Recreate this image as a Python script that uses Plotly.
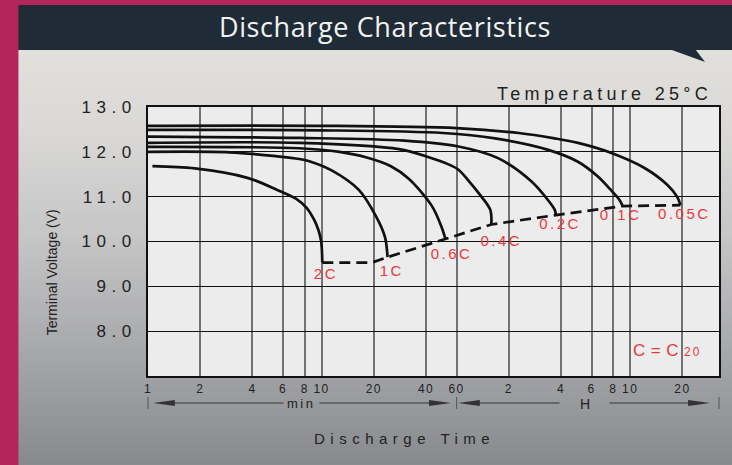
import zlib, struct, base64
import numpy as np
import plotly.graph_objects as go

# ---------------- data ----------------
rate_names = ['2C', '1C', '0.6C', '0.4C', '0.2C', '0.1C', '0.05C']

# discharge time in minutes, terminal voltage in volts
t_2C = [1.06, 1.86, 3.74, 5.56, 7.15, 8.2, 9.07, 9.6, 9.95, 10.1]
v_2C = [11.68, 11.63, 11.42, 11.15, 10.95, 10.75, 10.48, 10.25, 10.0, 9.53]

t_1C = [1, 2.95, 5.56, 7.44, 8.49, 11.5, 16.4, 20.6, 23.2, 24.0]
v_1C = [12.0, 11.99, 11.9, 11.84, 11.79, 11.58, 11.15, 10.56, 10.1, 9.65]

t_06C = [1, 7.44, 12.7, 18.0, 25.1, 31.8, 43.1, 49.2, 51.8]
v_06C = [12.11, 12.08, 12.0, 11.88, 11.68, 11.4, 10.8, 10.32, 10.05]

t_04C = [1, 7.44, 27.9, 41.5, 53.9, 61.5, 70.2, 83.4, 93.9, 95.1]
v_04C = [12.2, 12.2, 12.06, 11.88, 11.72, 11.6, 11.36, 11.0, 10.7, 10.38]

t_02C = [1, 7.44, 30, 61.5, 104, 161, 202, 221, 224]
v_02C = [12.34, 12.31, 12.25, 12.12, 11.86, 11.35, 10.92, 10.7, 10.59]

t_01C = [1, 10, 50, 100, 200, 300, 391, 464, 522, 543]
v_01C = [12.49, 12.48, 12.42, 12.3, 12.05, 11.78, 11.45, 11.15, 10.92, 10.79]

t_005C = [1, 10, 60, 137, 220, 300, 464, 726, 984, 1122, 1169]
v_005C = [12.58, 12.58, 12.53, 12.42, 12.3, 12.2, 11.98, 11.64, 11.26, 10.99, 10.81]

# end-of-discharge (dashed) line
t_end = [10.1, 19.5, 24.0, 51.8, 95.1, 224, 543, 1169]
v_end = [9.53, 9.53, 9.65, 10.05, 10.38, 10.59, 10.79, 10.81]

# curve label anchor points
label_t = [10.6, 25.4, 56.1, 108.5, 236.5, 529, 1232]
label_v = [9.25, 9.32, 9.70, 9.99, 10.37, 10.57, 10.59]

# axis ticks
tick_minutes = [1, 2, 4, 6, 8, 10, 20, 40, 60, 120, 240, 360, 480, 600, 1200]
tick_labels = ['1', '2', '4', '6', '8', '10', '20', '40', '60', '2', '4', '6', '8', '10', '20']
volt_ticks = [8, 9, 10, 11, 12, 13]

curves = [
    (t_2C, v_2C), (t_1C, v_1C), (t_06C, v_06C), (t_04C, v_04C),
    (t_02C, v_02C), (t_01C, v_01C), (t_005C, v_005C),
]

# ---------------- geometry / style ----------------
W, H = 732, 465
L, R, T, B = 148, 11, 107, 89
PW, PH = W - L - R, H - T - B
X_RANGE = [0, 3.29]
FONT = 'Liberation Sans, Arial, sans-serif'
RED = '#e8383d'
INK = '#222222'


def px(x):
    return (x - L) / PW


def py(y):
    return (H - B - y) / PH


def xlog_paper(v):
    return (np.log10(v) - X_RANGE[0]) / (X_RANGE[1] - X_RANGE[0])


def ls(text, sp):
    return f'<span style="letter-spacing:{sp}px">{text}</span>'


# ---------------- background gradient png ----------------
def make_png(rows, width=2):
    raw = b''.join(b'\x00' + bytes(c) * width for c in rows)

    def chunk(tag, data):
        return (struct.pack('>I', len(data)) + tag + data +
                struct.pack('>I', zlib.crc32(tag + data) & 0xffffffff))
    return (b'\x89PNG\r\n\x1a\n' +
            chunk(b'IHDR', struct.pack('>IIBBBBB', width, len(rows), 8, 2, 0, 0, 0)) +
            chunk(b'IDAT', zlib.compress(raw)) + chunk(b'IEND', b''))


stops = [(0.0, (226, 224, 221)), (0.2, (217, 216, 214)), (0.45, (198, 198, 199)),
         (0.7, (170, 171, 173)), (1.0, (137, 138, 142))]
rows = []
N = 200
for i in range(N):
    f = i / (N - 1)
    for j in range(len(stops) - 1):
        if stops[j][0] <= f <= stops[j + 1][0]:
            a, ca = stops[j]
            b, cb = stops[j + 1]
            u = (f - a) / (b - a)
            rows.append(tuple(int(round(ca[k] + (cb[k] - ca[k]) * u)) for k in range(3)))
            break
grad_uri = 'data:image/png;base64,' + base64.b64encode(make_png(rows)).decode()

# ---------------- figure ----------------
fig = go.Figure()
for t, v in curves:
    fig.add_trace(go.Scatter(
        x=t, y=v, mode='lines', hoverinfo='skip', showlegend=False,
        line=dict(color='#111111', width=2.7, shape='spline', smoothing=0.9)))

fig.add_trace(go.Scatter(
    x=t_end, y=v_end, mode='lines', hoverinfo='skip', showlegend=False,
    line=dict(color='#111111', width=2.7, dash='11px,6px')))

fig.add_trace(go.Scatter(
    x=label_t, y=label_v, mode='text', hoverinfo='skip', showlegend=False,
    text=[ls(n, 2.5) for n in rate_names], textposition='middle center',
    textfont=dict(color=RED, size=15, family=FONT)))

shapes = []
# header bar and its tail
shapes.append(dict(type='rect', xref='paper', yref='paper', layer='below',
                   x0=px(18), x1=px(745), y0=py(50), y1=py(5),
                   fillcolor='#1f2b36', line=dict(width=0)))
shapes.append(dict(type='path', xref='paper', yref='paper', layer='below',
                   path=f'M {px(671)},{py(49)} L {px(707)},{py(62)} L {px(697)},{py(49)} Z',
                   fillcolor='#1f2b36', line=dict(width=0)))
# plot area background
shapes.append(dict(type='rect', xref='paper', yref='paper', layer='below',
                   x0=0, x1=1, y0=0, y1=1, fillcolor='#ececec', line=dict(width=0)))

# time-unit arrows below axis
ya = py(403)
arrow_col = '#333333'
x1m, x60m, xend = xlog_paper(1), xlog_paper(60), 1.0
for xb in (x1m, x60m, xend):
    shapes.append(dict(type='line', xref='paper', yref='paper', x0=xb, x1=xb,
                       y0=py(397), y1=py(409), line=dict(color='#555555', width=1)))
segments = [(px(170), px(284)), (px(320), px(436)), (px(476), px(561)), (px(611), px(696))]
for a, b in segments:
    shapes.append(dict(type='line', xref='paper', yref='paper', x0=a, x1=b, y0=ya, y1=ya,
                       line=dict(color=arrow_col, width=1)))
heads = [(153, 175), (452, 430), (459, 481), (712, 690)]
for tip, base in heads:
    shapes.append(dict(type='path', xref='paper', yref='paper',
                       path=f'M {px(tip)},{ya} L {px(base)},{py(400)} L {px(base)},{py(406)} Z',
                       fillcolor=arrow_col, line=dict(width=0)))

annotations = [
    dict(text=ls('Discharge Characteristics', 0.6), x=px(386), y=py(26), xref='paper', yref='paper',
         xanchor='center', yanchor='middle', showarrow=False,
         font=dict(family='Open Sans, Noto Sans, sans-serif', size=27, color='#f2f2f2')),
    dict(text=ls('Temperature 25°C', 4.3), x=px(716), y=py(94), xref='paper', yref='paper',
         xanchor='right', yanchor='middle', showarrow=False,
         font=dict(family=FONT, size=18, color=INK)),
    dict(text='Terminal Voltage (V)', x=px(52), y=py(272), xref='paper', yref='paper',
         xanchor='center', yanchor='middle', showarrow=False, textangle=-90,
         font=dict(family=FONT, size=14, color=INK)),
    dict(text=ls('Discharge Time', 5.5), x=px(405), y=py(438), xref='paper', yref='paper',
         xanchor='center', yanchor='middle', showarrow=False,
         font=dict(family=FONT, size=15, color=INK)),
    dict(text=ls('C=C', 5.5) + '<span style="font-size:12px;letter-spacing:2px">20</span>',
         x=px(633), y=py(350), xref='paper', yref='paper',
         xanchor='left', yanchor='middle', showarrow=False,
         font=dict(family=FONT, size=17, color=RED)),
    dict(text=ls('min', 2.5), x=px(302), y=py(404), xref='paper', yref='paper',
         xanchor='center', yanchor='middle', showarrow=False,
         font=dict(family=FONT, size=13, color=INK)),
    dict(text='H', x=px(587), y=py(404), xref='paper', yref='paper',
         xanchor='center', yanchor='middle', showarrow=False,
         font=dict(family=FONT, size=14, color=INK)),
]

images = [dict(source=grad_uri, xref='paper', yref='paper', x=px(18), y=py(50),
               sizex=px(745) - px(18), sizey=py(50) - py(465),
               xanchor='left', yanchor='top', sizing='stretch', layer='below')]

fig.update_layout(
    width=W, height=H, margin=dict(l=L, r=R, t=T, b=B, pad=0),
    paper_bgcolor='#b4255c', plot_bgcolor='rgba(0,0,0,0)',
    shapes=shapes, annotations=annotations, images=images,
    showlegend=False, hovermode=False,
    xaxis=dict(type='log', range=X_RANGE, tickmode='array', tickvals=tick_minutes,
               ticktext=[ls(s, 1.5) for s in tick_labels],
               showgrid=True, gridcolor='#727272', gridwidth=1.6,
               showline=True, linecolor='#111111', linewidth=2, mirror=True,
               ticks='', ticklabelstandoff=1, zeroline=False, fixedrange=True,
               tickfont=dict(family=FONT, size=12, color=INK)),
    yaxis=dict(range=[7, 13], tickmode='array', tickvals=volt_ticks,
               ticktext=[ls(f'{v:.1f}', 5.5) for v in volt_ticks],
               showgrid=True, gridcolor='#111111', gridwidth=1.2,
               showline=True, linecolor='#111111', linewidth=2, mirror=True,
               ticks='', ticklabelstandoff=6, zeroline=False, fixedrange=True,
               tickfont=dict(family=FONT, size=17, color=INK)),
)

fig.write_html('out.html', config={'displayModeBar': False},
               post_script="document.body.style.margin='0';document.body.style.overflow='hidden';")
